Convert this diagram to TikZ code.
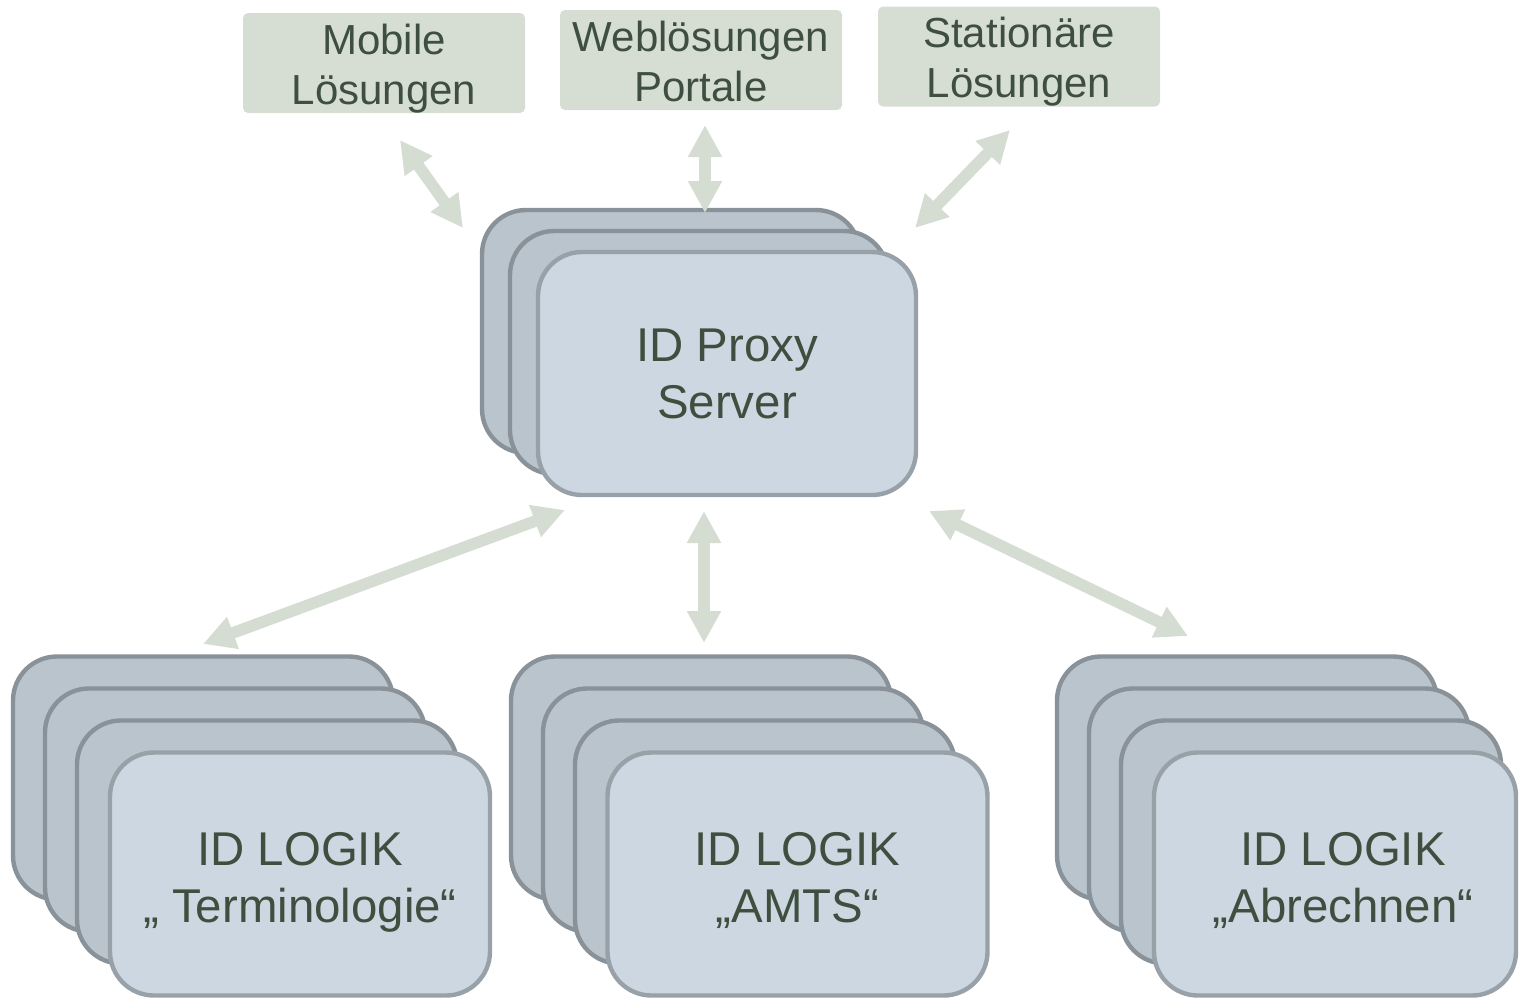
\documentclass[tikz,border=0pt]{standalone}
\usepackage{fontspec}
\setmainfont{Liberation Sans}
\usetikzlibrary{arrows.meta}
\definecolor{txt}{HTML}{3E4F3F}
\definecolor{clientfill}{HTML}{D6DED4}
\definecolor{linkcol}{HTML}{D5DDD3}
\definecolor{backfill}{HTML}{B9C4CD}
\definecolor{backline}{HTML}{8A9299}
\definecolor{frontfill}{HTML}{CDD7E1}
\definecolor{frontline}{HTML}{98A1A8}
\begin{document}
\begin{tikzpicture}[x=0.5pt,y=-0.5pt,
  client/.style={fill=clientfill, rounded corners=2.5pt, minimum width=141pt,
    minimum height=50pt, inner sep=0pt, text=txt, align=center,
    font=\fontsize{21}{25}\selectfont, text height=41pt, text depth=0pt},
  card/.style={line width=2.2pt, rounded corners=22pt, minimum width=189pt,
    minimum height=121.5pt, inner sep=0pt},
  backcard/.style={card, fill=backfill, draw=backline},
  frontcard/.style={card, fill=frontfill, draw=frontline, text=txt, align=center,
    font=\fontsize{23.7}{28.5}\selectfont},
  logic/.style={frontcard, minimum width=190pt, text height=48pt, text depth=0pt},
  link/.style={draw=linkcol, line width=5.8pt,
    {Triangle[width=16pt,length=16pt]}-{Triangle[width=16pt,length=16pt]}}]
\useasboundingbox (0,0) rectangle (1519,998);

% client applications
\node[client] (mobile) at (384,63) {Mobile\\Lösungen};
\node[client] (web) at (701,60) {Weblösungen\\Portale};
\node[client] (station) at (1019,56.5) {Stationäre\\Lösungen};

% proxy server stack
\node[backcard] (proxyA) at (671,331.5) {};
\node[backcard] (proxyB) at (699,352.5) {};
\node[frontcard] (proxy) at (727,373.5) {ID Proxy\\Server};

% logic stack: terminology
\node[backcard, minimum width=190pt] (termA) at (203,778) {};
\node[backcard, minimum width=190pt] (termB) at (235,810) {};
\node[backcard, minimum width=190pt] (termC) at (267,842) {};
\node[logic] (term) at (300,874) {ID LOGIK\\„ Terminologie“};

% logic stack: AMTS
\node[backcard, minimum width=190pt] (amtsA) at (701,778) {};
\node[backcard, minimum width=190pt] (amtsB) at (733,810) {};
\node[backcard, minimum width=190pt] (amtsC) at (765,842) {};
\node[logic] (amts) at (797.5,874) {ID LOGIK\\„AMTS“};

% logic stack: billing
\node[backcard, minimum width=190pt] (billA) at (1247,778) {};
\node[backcard, minimum width=190pt] (billB) at (1279,810) {};
\node[backcard, minimum width=190pt] (billC) at (1311,842) {};
\node[logic, minimum width=181pt] (bill) at (1335,874)
  {\hspace*{8pt}ID LOGIK\\\hspace*{8pt}„Abrechnen“};

% connector end points
\coordinate (mobileEnd) at (400,140);
\coordinate (proxyMobile) at (463,228);
\coordinate (webEnd) at (705,125);
\coordinate (proxyWeb) at (705,213);
\coordinate (stationEnd) at (1010,130);
\coordinate (proxyStation) at (915,228);
\coordinate (proxyTerm) at (565,510);
\coordinate (termEnd) at (203,644);
\coordinate (proxyAmts) at (704,511);
\coordinate (amtsEnd) at (704,643);
\coordinate (proxyBill) at (929,511);
\coordinate (billEnd) at (1188,636);

% connectors
\draw[link] (mobileEnd) -- (proxyMobile);
\draw[link] (webEnd) -- (proxyWeb);
\draw[link] (stationEnd) -- (proxyStation);
\draw[link] (proxyTerm) -- (termEnd);
\draw[link] (proxyAmts) -- (amtsEnd);
\draw[link] (proxyBill) -- (billEnd);
\end{tikzpicture}
\end{document}
